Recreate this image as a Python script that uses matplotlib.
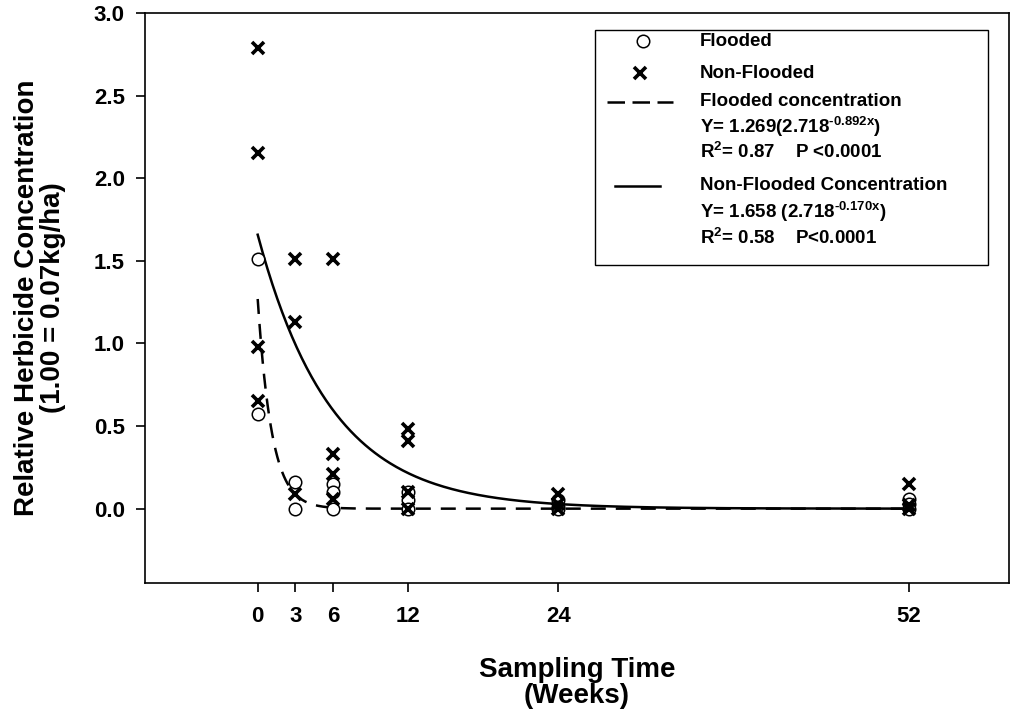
import numpy as np
import matplotlib
matplotlib.use("Agg")
import matplotlib.pyplot as plt
from matplotlib.lines import Line2D
from matplotlib.patches import Rectangle

plt.rcParams['font.family'] = ['Liberation Sans', 'DejaVu Sans']
plt.rcParams['font.weight'] = 'bold'
plt.rcParams['mathtext.fontset'] = 'custom'
plt.rcParams['mathtext.rm'] = 'Liberation Sans:bold'
plt.rcParams['mathtext.default'] = 'rm'

# -------------------------------
# Data
# -------------------------------
flooded_weeks = [0, 0, 3, 3, 6, 6, 6, 12, 12, 12, 24, 24, 24, 52, 52, 52]
flooded_conc = [1.51, 0.57, 0.16, 0.00, 0.15, 0.10, 0.00, 0.10, 0.05, 0.00,
                0.05, 0.01, 0.00, 0.06, 0.03, 0.00]

nonflooded_weeks = [0, 0, 0, 0, 3, 3, 3, 6, 6, 6, 6, 12, 12, 12, 12,
                    24, 24, 24, 52, 52, 52]
nonflooded_conc = [2.79, 2.15, 0.98, 0.65, 1.51, 1.13, 0.09, 1.51, 0.33, 0.21, 0.06,
                   0.48, 0.41, 0.10, 0.00, 0.09, 0.03, 0.00, 0.15, 0.02, 0.00]

# fitted models y = a * 2.718^(b*x)
flooded_a, flooded_b = 1.269, -0.892
nonflooded_a, nonflooded_b = 1.658, -0.170

x_ticks = [0, 3, 6, 12, 24, 52]
y_ticks = [0.0, 0.5, 1.0, 1.5, 2.0, 2.5, 3.0]

# -------------------------------
# Figure
# -------------------------------
W, H = 1013, 719
fig = plt.figure(figsize=(W / 100, H / 100), dpi=100)
ax = fig.add_axes([145 / W, 1 - 583 / H, 864 / W, 570 / H])

xs = np.linspace(0, 52, 400)
ax.plot(xs, flooded_a * 2.718 ** (flooded_b * xs), color='black', lw=1.8,
        linestyle=(0, (6, 4)))
ax.plot(xs, nonflooded_a * 2.718 ** (nonflooded_b * xs), color='black', lw=1.8)

ax.plot(flooded_weeks, flooded_conc, linestyle='none', marker='o', ms=9,
        mfc='white', mec='black', mew=1.1)
ax.plot(nonflooded_weeks, nonflooded_conc, linestyle='none', marker='x', ms=8,
        mec='black', mew=2.6)

ax.set_xlim(-9, 60)
ax.set_ylim(-0.45, 3.0)
ax.set_xticks(x_ticks)
ax.set_yticks(y_ticks)
ax.set_yticklabels([f"{v:.1f}" for v in y_ticks])
ax.tick_params(direction='out', length=6.5, width=1.2, labelsize=16)
ax.tick_params(axis='x', pad=10)
ax.tick_params(axis='y', pad=8)
for s in ax.spines.values():
    s.set_linewidth(1.2)

ax.set_xlabel('Sampling Time\n(Weeks)', fontsize=20, fontweight='bold',
              linespacing=1.0, labelpad=22)
ax.set_ylabel('Relative Herbicide Concentration\n(1.00 = 0.07kg/ha)', fontsize=20,
              fontweight='bold', linespacing=1.0)
ax.yaxis.set_label_coords(-0.092, 0.5)

# -------------------------------
# Legend (drawn by hand)
# -------------------------------
def fx(px):
    return px / W


def fy(py):
    return 1 - py / H


fig.patches.append(Rectangle((fx(595), fy(265)), fx(988) - fx(595), fy(30) - fy(265),
                             transform=fig.transFigure, fill=False, lw=1.0,
                             edgecolor='black'))

fig.lines.append(Line2D([fx(643)], [fy(41)], transform=fig.transFigure, marker='o',
                        ms=9, mfc='white', mec='black', mew=1.1, linestyle='none'))
fig.lines.append(Line2D([fx(640)], [fy(73)], transform=fig.transFigure, marker='x',
                        ms=8, mec='black', mew=2.6, linestyle='none'))
fig.lines.append(Line2D([fx(607), fx(673)], [fy(102), fy(102)], transform=fig.transFigure,
                        color='black', lw=1.8, linestyle=(0, (7, 3))))
fig.lines.append(Line2D([fx(615), fx(660)], [fy(186), fy(186)], transform=fig.transFigure,
                        color='black', lw=1.8))

legend_rows = [
    (41, 'Flooded'),
    (73, 'Non-Flooded'),
    (102, 'Flooded concentration'),
    (127, 'Y= 1.269(2.718$^{\\mathregular{\u2010}0.892x}$)'),
    (152, 'R$^{\\mathregular{2}}$= 0.87    P <0.0001'),
    (186, 'Non-Flooded Concentration'),
    (212, 'Y= 1.658 (2.718$^{\\mathregular{\u2010}0.170x}$)'),
    (238, 'R$^{\\mathregular{2}}$= 0.58    P<0.0001'),
]
for py, txt in legend_rows:
    fig.text(fx(700), fy(py), txt, fontsize=13.5, fontweight='bold',
             ha='left', va='center')

fig.savefig('out.png', dpi=100)
